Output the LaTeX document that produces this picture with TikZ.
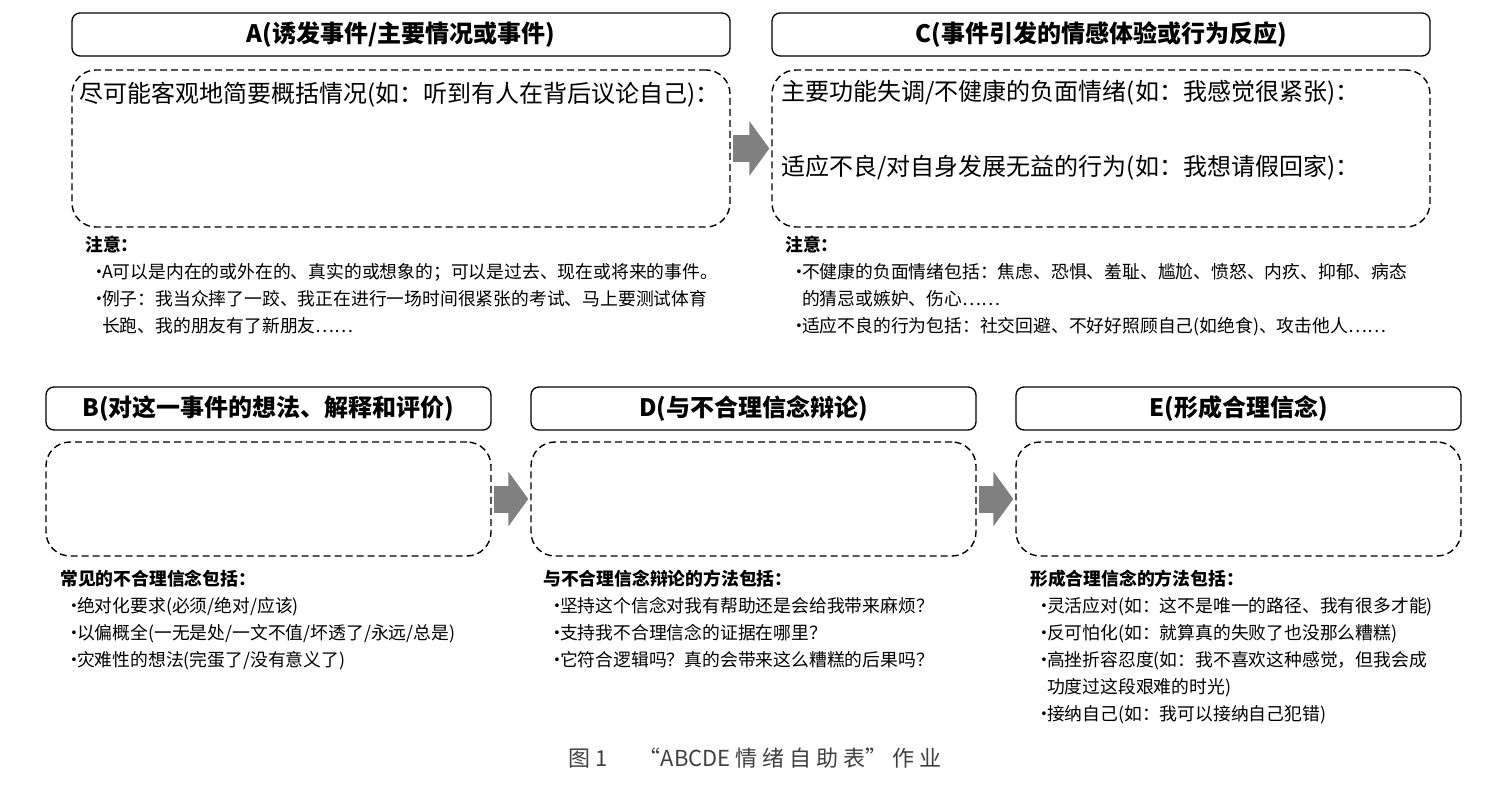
\documentclass[tikz,border=0pt]{standalone}
\usepackage{fontspec}
\setmainfont{Noto Sans CJK SC}
\usetikzlibrary{arrows.meta,positioning}

\newcommand{\notebullet}{\makebox[0.95em][l]{\hspace{0.3em}·}}
\newcommand{\noteindent}{\hspace*{0.95em}}

\begin{document}
\begin{tikzpicture}[x=1pt,y=-1pt,
    headbox/.style={draw,line width=1.3pt,rounded corners=8pt,inner sep=0pt,
      font=\fontsize{24}{28}\selectfont\bfseries},
    bodybox/.style={draw,line width=1.4pt,dash pattern=on 7pt off 4pt,
      rounded corners=24pt,inner sep=0pt},
    bodytext/.style={inner sep=0pt,anchor=west,font=\fontsize{24}{28}\selectfont},
    notetext/.style={inner sep=0pt,anchor=north west,align=left,
      font=\fontsize{17.8}{27}\selectfont},
    flowarrow/.style={line width=27pt,black!50,shorten <=2pt,shorten >=2pt,
      -{Triangle[width=54pt,length=20pt]}}]
  \useasboundingbox (0,0) rectangle (1491,791);

  %% A and C
  \node[headbox,minimum width=658pt,minimum height=43pt] (headA) at (401,34.5) {A(诱发事件/主要情况或事件)};
  \node[bodybox,minimum width=658pt,minimum height=157pt] (bodyA) at (401,148.5) {};
  \node[bodytext] (txtA) at ([xshift=8pt,yshift=-25pt]bodyA.north west) {尽可能客观地简要概括情况(如：听到有人在背后议论自己)：};

  \node[headbox,minimum width=658pt,minimum height=43pt] (headC) at (1101,34.5) {C(事件引发的情感体验或行为反应)};
  \node[bodybox,minimum width=658pt,minimum height=157pt] (bodyC) at (1101,148.5) {};
  \node[bodytext] (txtCa) at ([xshift=10pt,yshift=-23pt]bodyC.north west) {主要功能失调/不健康的负面情绪(如：我感觉很紧张)：};
  \node[bodytext] (txtCb) at ([xshift=10pt,yshift=-98pt]bodyC.north west) {适应不良/对自身发展无益的行为(如：我想请假回家)：};

  \draw[flowarrow] (bodyA.east) -- (bodyC.west);

  %% notes A and C
  \node[notetext] (noteA) at (85,236) {\textbf{注意：}\\
    \notebullet A可以是内在的或外在的、真实的或想象的；可以是过去、现在或将来的事件。\\
    \notebullet 例子：我当众摔了一跤、我正在进行一场时间很紧张的考试、马上要测试体育\\
    \noteindent 长跑、我的朋友有了新朋友……};
  \node[notetext] (noteC) at (785,236) {\textbf{注意：}\\
    \notebullet 不健康的负面情绪包括：焦虑、恐惧、羞耻、尴尬、愤怒、内疚、抑郁、病态\\
    \noteindent 的猜忌或嫉妒、伤心……\\
    \notebullet 适应不良的行为包括：社交回避、不好好照顾自己(如绝食)、攻击他人……};

  %% B, D and E
  \node[headbox,minimum width=445pt,minimum height=43pt] (headB) at (268.5,408.5) {B(对这一事件的想法、解释和评价)};
  \node[bodybox,minimum width=445pt,minimum height=114pt] (bodyB) at (268.5,499) {};
  \node[headbox,minimum width=445pt,minimum height=43pt] (headD) at (753.5,408.5) {D(与不合理信念辩论)};
  \node[bodybox,minimum width=445pt,minimum height=114pt] (bodyD) at (753.5,499) {};
  \node[headbox,minimum width=445pt,minimum height=43pt] (headE) at (1238.5,408.5) {E(形成合理信念)};
  \node[bodybox,minimum width=445pt,minimum height=114pt] (bodyE) at (1238.5,499) {};

  \draw[flowarrow] (bodyB.east) -- (bodyD.west);
  \draw[flowarrow] (bodyD.east) -- (bodyE.west);

  %% notes B, D and E
  \node[notetext] (noteB) at (60,570) {\textbf{常见的不合理信念包括：}\\
    \notebullet 绝对化要求(必须/绝对/应该)\\
    \notebullet 以偏概全(一无是处/一文不值/坏透了/永远/总是)\\
    \notebullet 灾难性的想法(完蛋了/没有意义了)};
  \node[notetext] (noteD) at (543,570) {\textbf{与不合理信念辩论的方法包括：}\\
    \notebullet 坚持这个信念对我有帮助还是会给我带来麻烦？\\
    \notebullet 支持我不合理信念的证据在哪里？\\
    \notebullet 它符合逻辑吗？真的会带来这么糟糕的后果吗？};
  \node[notetext] (noteE) at (1030,570) {\textbf{形成合理信念的方法包括：}\\
    \notebullet 灵活应对(如：这不是唯一的路径、我有很多才能)\\
    \notebullet 反可怕化(如：就算真的失败了也没那么糟糕)\\
    \notebullet 高挫折容忍度(如：我不喜欢这种感觉，但我会成\\
    \noteindent 功度过这段艰难的时光)\\
    \notebullet 接纳自己(如：我可以接纳自己犯错)};

  %% caption
  \node[inner sep=0pt,black!75,font=\fontsize{22}{24}\selectfont] (caption) at (755,758)
    {图 1\hspace{1.4em}“ABCDE 情 绪 自 助 表” 作 业};
\end{tikzpicture}
\end{document}
